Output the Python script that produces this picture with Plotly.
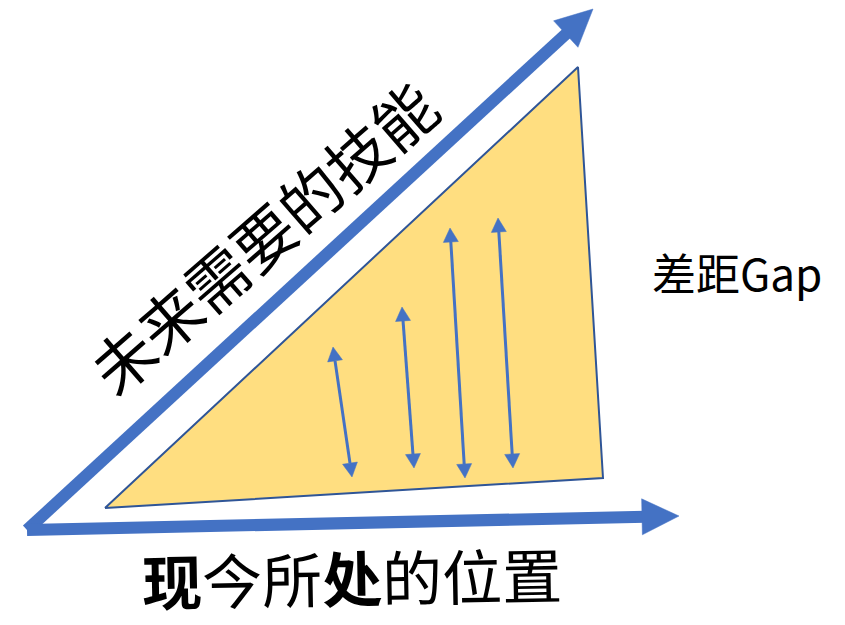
import numpy as np
import plotly.graph_objects as go

# ---- data (diagram coordinates, pixel-like units, y downward) ----
triangle_x = [105, 578, 603, 105]
triangle_y = [508, 67, 478, 508]

axis_origin = [27, 530]
future_tip = [593, 9]
present_tip = [679, 516]

gap_top_x = [333, 402, 450, 498]
gap_top_y = [347, 307, 228, 218]
gap_bottom_x = [352, 414, 465, 513]
gap_bottom_y = [477, 468, 478, 468]

future_label = "未来需要的技能"
present_label = "<b>现</b>今所<b>处</b>的位置"
gap_label = "差距Gap"

BLUE = "#4472C4"
FONT = "Noto Sans CJK SC"

fig = go.Figure()


def head(tip, tail, length, half):
    tip = np.array(tip, float)
    tail = np.array(tail, float)
    d = tip - tail
    d /= np.linalg.norm(d)
    n = np.array([-d[1], d[0]])
    base = tip - d * length
    p1 = base + n * half
    p2 = base - n * half
    return [tip[0], p1[0], p2[0], tip[0]], [tip[1], p1[1], p2[1], tip[1]], base


# triangle (gap area)
fig.add_trace(go.Scatter(x=triangle_x, y=triangle_y, mode="lines", fill="toself",
                         fillcolor="#FFDE80", line=dict(color="#2F5597", width=2),
                         hoverinfo="skip", showlegend=False))

# big axis arrows
for tip, L, H in [(future_tip, 37, 18), (present_tip, 37, 18)]:
    hx, hy, base = head(tip, axis_origin, L, H)
    fig.add_trace(go.Scatter(x=[axis_origin[0], base[0] + (tip[0]-base[0])*0.1],
                             y=[axis_origin[1], base[1] + (tip[1]-base[1])*0.1],
                             mode="lines", line=dict(color=BLUE, width=12),
                             hoverinfo="skip", showlegend=False))
    fig.add_trace(go.Scatter(x=hx, y=hy, mode="lines", fill="toself", fillcolor=BLUE,
                             line=dict(color=BLUE, width=0.5), hoverinfo="skip", showlegend=False))

# double arrows inside the gap
for tx, ty, bx, by in zip(gap_top_x, gap_top_y, gap_bottom_x, gap_bottom_y):
    h1x, h1y, b1 = head([tx, ty], [bx, by], 14, 7.5)
    h2x, h2y, b2 = head([bx, by], [tx, ty], 14, 7.5)
    fig.add_trace(go.Scatter(x=[b1[0], b2[0]], y=[b1[1], b2[1]], mode="lines",
                             line=dict(color=BLUE, width=3), hoverinfo="skip", showlegend=False))
    for hx, hy in [(h1x, h1y), (h2x, h2y)]:
        fig.add_trace(go.Scatter(x=hx, y=hy, mode="lines", fill="toself", fillcolor=BLUE,
                                 line=dict(color=BLUE, width=0.5), hoverinfo="skip",
                                 showlegend=False))

fig.add_annotation(x=262, y=236, text=future_label, showarrow=False, textangle=-41,
                   font=dict(family=FONT, size=62, color="black"))
fig.add_annotation(x=352, y=575, text=present_label, showarrow=False, textangle=-1,
                   font=dict(family=FONT, size=60, color="black"))
fig.add_annotation(x=737, y=272, text=gap_label, showarrow=False,
                   font=dict(family=FONT, size=44, color="black"))

fig.update_xaxes(range=[0, 845], visible=False, fixedrange=True)
fig.update_yaxes(range=[625, 0], visible=False, fixedrange=True)
fig.update_layout(width=845, height=625, margin=dict(l=0, r=0, t=0, b=0),
                  plot_bgcolor="white", paper_bgcolor="white")

fig.write_html("out.html", config={"displayModeBar": False},
               post_script="document.body.style.margin='0';document.body.style.overflow='hidden';")
